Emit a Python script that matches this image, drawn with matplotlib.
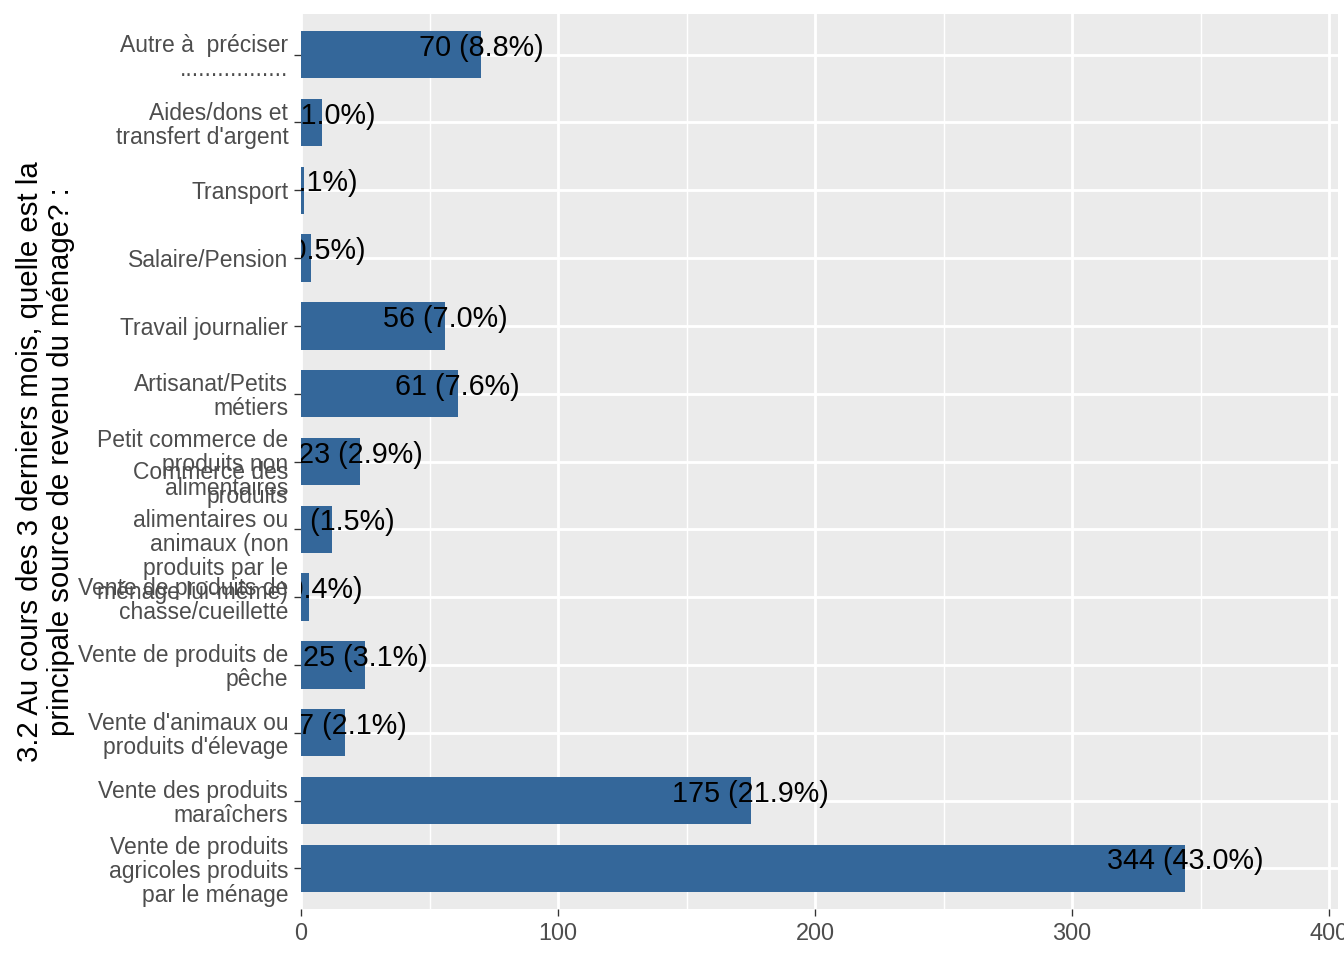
import numpy as np
import matplotlib
matplotlib.use('Agg')
import matplotlib.pyplot as plt
from matplotlib.ticker import MultipleLocator

# Data (top to bottom as shown)
categories = [
    "Autre à  préciser\n.................",
    "Aides/dons et\ntransfert d'argent",
    "Transport",
    "Salaire/Pension",
    "Travail journalier",
    "Artisanat/Petits\nmétiers",
    "Petit commerce de\nproduits non\nalimentaires",
    "Commerce des\nproduits\nalimentaires ou\nanimaux (non\nproduits par le\nménage lui-même)",
    "Vente de produits de\nchasse/cueillette",
    "Vente de produits de\npêche",
    "Vente d'animaux ou\nproduits d'élevage",
    "Vente des produits\nmaraîchers",
    "Vente de produits\nagricoles produits\npar le ménage",
]
counts = [70, 8, 1, 4, 56, 61, 23, 12, 3, 25, 17, 175, 344]
pcts = [8.8, 1.0, 0.1, 0.5, 7.0, 7.6, 2.9, 1.5, 0.4, 3.1, 2.1, 21.9, 43.0]
ytitle = "3.2 Au cours des 3 derniers mois, quelle est la\nprincipale source de revenu du ménage? :"

plt.rcParams['font.family'] = ['Liberation Sans', 'DejaVu Sans']

fig = plt.figure(figsize=(7, 5), dpi=192)
ax = fig.add_axes([301 / 1344, 1 - 909 / 960, 1037 / 1344, 895 / 960])

n = len(categories)
ypos = np.arange(n)[::-1]

ax.set_facecolor('#EBEBEB')
ax.barh(ypos, counts, height=0.7, color='#34679A', zorder=2)

# value labels, centred on the bar end (clipped by the panel like ggplot)
for y, c, p in zip(ypos, counts, pcts):
    ax.annotate(f"{c} ({p:.1f}%)", xy=(c, y), xytext=(0, 2.6),
                textcoords='offset points', ha='center', va='center',
                fontsize=10.8, color='black', zorder=3,
                annotation_clip=False, clip_on=True)

ax.set_xlim(0, 403.5)
ax.set_ylim(-0.6, n - 1 + 0.6)
ax.set_yticks(ypos)
ax.set_yticklabels(categories, fontsize=8.6, color='#4D4D4D', linespacing=1.06)
ax.xaxis.set_major_locator(MultipleLocator(100))
ax.xaxis.set_minor_locator(MultipleLocator(50))
ax.tick_params(axis='x', which='major', labelsize=8.8, labelcolor='#4D4D4D',
               color='#333333', length=2.75, width=0.5, pad=2)
ax.tick_params(axis='x', which='minor', length=0)
ax.tick_params(axis='y', color='#333333', length=2.75, width=0.5, pad=2)

ax.grid(which='major', color='white', linewidth=1.07, zorder=0)
ax.grid(which='minor', axis='x', color='white', linewidth=0.53, zorder=0)
ax.set_axisbelow(True)
for s in ax.spines.values():
    s.set_visible(False)

ax.set_ylabel(ytitle, fontsize=11, color='black', linespacing=1.14)
ax.yaxis.set_label_coords(-0.218, 0.5)

fig.savefig('out.png', dpi=192)
